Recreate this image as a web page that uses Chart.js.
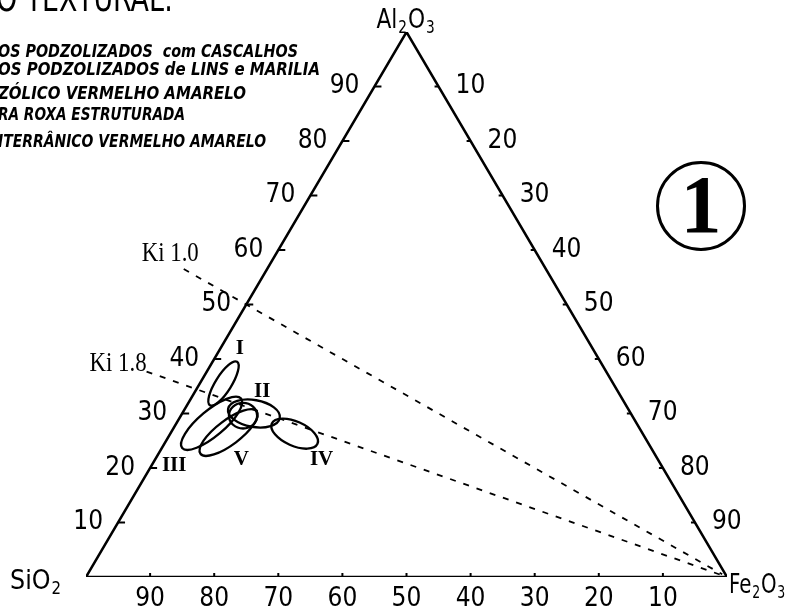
<!DOCTYPE html>
<html>
<head>
<meta charset="utf-8">
<script src="https://cdn.jsdelivr.net/npm/chart.js@4.4.0/dist/chart.umd.min.js"></script>
<style>
  html, body { margin: 0; padding: 0; background: #fff; }
  #wrap { width: 788px; height: 611px; }
</style>
</head>
<body>
<div id="wrap"><canvas id="ternario" width="788" height="611"></canvas></div>
<script>
// composicoes em % : [SiO2, Al2O3, Fe2O3]
var vertices = [[100, 0, 0], [0, 100, 0], [0, 0, 100]];
var valoresEixo = [10, 20, 30, 40, 50, 60, 70, 80, 90];

// retas Ki (prolongadas para fora do triangulo ate o rotulo)
var kiRotulos = ['Ki 1.0', 'Ki 1.8'];
var kiInicio = [[56.5, 56.5, -13], [71.7, 37.7, -9.4]];
var kiFim = [[0.5, 0.5, 99], [0.6, 0.3, 99.1]];

// campos dos solos (elipses)
var elipseNomes = ['I', 'II', 'III', 'IV', 'V', ''];
var elipseCentros = [[60.8, 35.5, 3.7], [58.8, 30.0, 11.2], [66.3, 28.2, 5.5], [54.3, 26.3, 19.4], [64.5, 26.5, 9.0], [60.7, 29.6, 9.7]];
var elipseEixoA = [4.0, 4.1, 6.0, 3.9, 5.5, 2.2];
var elipseEixoB = [1.25, 2.1, 2.0, 1.9, 1.9, 2.0];
var elipseAngulo = [58, -10, 40, -24, 37, 0];
var rotuloPos = [[55, 42, 3], [55.5, 34, 10.5], [76, 20.5, 3.5], [52.5, 21.5, 26], [65, 21.5, 13.5]];

var legenda = [
    'OS PODZOLIZADOS  com CASCALHOS',
    'OS PODZOLIZADOS de LINS e MARILIA',
    'ZÓLICO VERMELHO AMARELO',
    'RA ROXA ESTRUTURADA',
    'ITERRÂNICO VERMELHO AMARELO'
];

var SANS = "'DejaVu Sans Condensed', 'DejaVu Sans', sans-serif";
var SERIF = "'Liberation Serif', 'DejaVu Serif', serif";

// composicao -> coordenadas cartesianas (lado = 100)
function toXY(c) {
    return { x: c[2] + c[1] / 2, y: c[1] * Math.sqrt(3) / 2 };
}

function textoAjustado(ctx, txt, x, y, w) {
    var m = ctx.measureText(txt).width;
    ctx.save();
    ctx.translate(x, y);
    ctx.scale(w / m, 1);
    ctx.fillText(txt, 0, 0);
    ctx.restore();
}

// formula com subscritos: partes [texto, subscrito?], largura final w
function formula(ctx, partes, x, y, w) {
    var total = 0;
    partes.forEach(function(p) {
        ctx.font = (p[1] ? '17px ' : '27px ') + SANS;
        total += ctx.measureText(p[0]).width + 1;
    });
    ctx.save();
    ctx.translate(x, y);
    ctx.scale(w / total, 1);
    ctx.textAlign = 'left';
    ctx.textBaseline = 'alphabetic';
    var cx = 0;
    partes.forEach(function(p) {
        ctx.font = (p[1] ? '17px ' : '27px ') + SANS;
        ctx.fillText(p[0], cx, p[1] ? 5 : 0);
        cx += ctx.measureText(p[0]).width + 1;
    });
    ctx.restore();
}

var desenho = {
    id: 'desenho',
    afterDatasetsDraw: function(chart) {
        var ctx = chart.ctx;
        var xs = chart.scales.x, ys = chart.scales.y;
        function px(c) {
            var p = toXY(c);
            return { x: xs.getPixelForValue(p.x), y: ys.getPixelForValue(p.y) };
        }
        var unidade = xs.getPixelForValue(1) - xs.getPixelForValue(0);
        ctx.save();
        ctx.strokeStyle = '#000';
        ctx.fillStyle = '#000';

        // elipses
        ctx.lineWidth = 2.3;
        elipseCentros.forEach(function(c, i) {
            var p = px(c);
            ctx.beginPath();
            ctx.ellipse(p.x, p.y, elipseEixoA[i] * unidade, elipseEixoB[i] * unidade,
                -elipseAngulo[i] * Math.PI / 180, 0, Math.PI * 2);
            ctx.stroke();
        });

        // marcas dos eixos
        ctx.lineWidth = 2;
        ctx.font = '26px ' + SANS;
        ctx.textBaseline = 'middle';
        valoresEixo.forEach(function(v) {
            // esquerda: Al2O3
            var p = px([100 - v, v, 0]);
            ctx.beginPath(); ctx.moveTo(p.x, p.y); ctx.lineTo(p.x + 7, p.y); ctx.stroke();
            ctx.textAlign = 'right';
            ctx.fillText(String(v), p.x - 15, p.y);
            // direita: Fe2O3
            p = px([0, 100 - v, v]);
            ctx.beginPath(); ctx.moveTo(p.x, p.y); ctx.lineTo(p.x - 4, p.y); ctx.stroke();
            ctx.textAlign = 'left';
            ctx.fillText(String(v), p.x + 17, p.y);
            // base: SiO2
            p = px([v, 0, 100 - v]);
            ctx.beginPath(); ctx.moveTo(p.x, p.y); ctx.lineTo(p.x, p.y - 4); ctx.stroke();
            ctx.textAlign = 'center';
            ctx.fillText(String(v), p.x, p.y + 22);
        });

        // vertices
        var a = px(vertices[1]), s = px(vertices[0]), f = px(vertices[2]);
        formula(ctx, [['Al', 0], ['2', 1], ['O', 0], ['3', 1]], a.x - 30, a.y - 4, 59);
        formula(ctx, [['SiO', 0], ['2', 1]], s.x - 76, s.y + 12, 52);
        formula(ctx, [['Fe', 0], ['2', 1], ['O', 0], ['3', 1]], f.x + 2, f.y + 16, 57);

        // rotulos Ki
        ctx.font = '28px ' + SERIF;
        ctx.textAlign = 'left';
        ctx.textBaseline = 'middle';
        var kiDesloc = [[-42, -15], [-57, -8]];
        kiRotulos.forEach(function(t, i) {
            var p = px(kiInicio[i]);
            textoAjustado(ctx, t, p.x + kiDesloc[i][0], p.y + kiDesloc[i][1], 57);
        });

        // rotulos das elipses
        ctx.font = 'bold 21px ' + SERIF;
        ctx.textAlign = 'center';
        rotuloPos.forEach(function(c, i) {
            var p = px(c);
            ctx.fillText(elipseNomes[i], p.x, p.y);
        });

        // titulo e legenda
        ctx.textAlign = 'left';
        ctx.textBaseline = 'alphabetic';
        ctx.font = '38px ' + SANS;
        textoAjustado(ctx, 'O TEXTURAL:', -4, 11, 177);
        ctx.font = 'italic bold 17px ' + SANS;
        var leg = [[57, 300], [75, 322], [99, 248], [120, 187], [147, 268]];
        legenda.forEach(function(t, i) {
            textoAjustado(ctx, t, -2, leg[i][0], leg[i][1]);
        });

        // numero da figura
        ctx.lineWidth = 3;
        ctx.beginPath();
        ctx.arc(701, 206, 43.5, 0, Math.PI * 2);
        ctx.stroke();
        ctx.font = 'bold 82px ' + SERIF;
        ctx.textAlign = 'center';
        ctx.textBaseline = 'alphabetic';
        ctx.fillText('1', 701, 232);
        ctx.restore();
    }
};

var triangulo = vertices.concat([vertices[0]]).map(toXY);

new Chart(document.getElementById('ternario'), {
    type: 'scatter',
    data: {
        datasets: [{
            label: 'triangulo',
            data: triangulo,
            showLine: true,
            borderColor: '#000',
            borderWidth: 2.5,
            pointRadius: 0
        }].concat(kiRotulos.map(function(t, i) {
            return {
                label: t,
                data: [toXY(kiInicio[i]), toXY(kiFim[i])],
                showLine: true,
                borderColor: '#000',
                borderWidth: 1.8,
                borderDash: [6, 8],
                pointRadius: 0
            };
        }))
    },
    options: {
        responsive: false,
        animation: false,
        layout: { padding: { left: 86, right: 61, top: 32, bottom: 34 } },
        plugins: {
            legend: { display: false },
            tooltip: { enabled: false }
        },
        scales: {
            x: { type: 'linear', min: 0, max: 100, display: false },
            y: { type: 'linear', min: 0, max: 100 * Math.sqrt(3) / 2, display: false }
        }
    },
    plugins: [desenho]
});
</script>
</body>
</html>
